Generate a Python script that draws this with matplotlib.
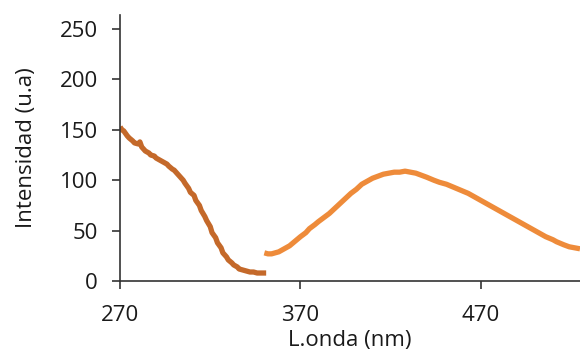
import matplotlib.pyplot as plt

# excitation spectrum (brown)
exc_nm = [270, 271, 272, 274, 275, 277, 278, 280, 281, 282, 284, 286, 287, 289, 290,
          292, 294, 296, 297, 299, 300, 302, 303, 305, 306, 308, 309, 311, 312, 314,
          315, 317, 318, 320, 321, 323, 324, 326, 327, 329, 330, 332, 333, 335, 336,
          338, 340, 342, 344, 346, 348, 351]
exc_int = [153, 150, 149, 144, 142, 139, 137, 136, 138, 133, 129, 127, 125, 124, 122,
           120, 118, 116, 114, 111, 110, 106, 104, 100, 97, 92, 88, 85, 80, 75,
           70, 64, 60, 54, 48, 43, 38, 33, 28, 24, 21, 18, 16, 14, 12,
           11, 10, 9, 9, 8, 8, 8]

# emission spectrum (orange)
em_nm = [350, 352, 354, 356, 358, 360, 362, 364, 366, 368, 370, 373, 375, 378, 380,
         383, 386, 389, 392, 395, 398, 401, 404, 407, 410, 413, 416, 419, 422, 425,
         428, 431, 434, 437, 440, 444, 447, 451, 455, 459, 463, 467, 470, 474, 478,
         482, 486, 490, 493, 497, 500, 504, 506, 510, 512, 516, 519, 522, 525]
em_int = [28, 27, 27, 28, 29, 31, 33, 35, 38, 41, 44, 48, 52, 56, 59,
          63, 67, 72, 77, 82, 87, 91, 96, 99, 102, 104, 106, 107, 108, 108,
          109, 108, 107, 105, 103, 100, 98, 96, 93, 90, 87, 83, 80, 76, 72,
          68, 64, 60, 57, 53, 50, 46, 44, 41, 39, 36, 34, 33, 32]

fig = plt.figure(figsize=(5.8, 3.54), dpi=100)
ax = fig.add_axes([0.207, 0.206, 0.793, 0.752])

ax.plot(exc_nm, exc_int, color="#C4692A", linewidth=3.8, solid_capstyle="butt")
ax.plot(em_nm, em_int, color="#EE8B3A", linewidth=3.8, solid_capstyle="butt")

ax.set_xlim(270, 525)
ax.set_ylim(0, 264)
ax.set_xticks([270, 370, 470])
ax.set_yticks([0, 50, 100, 150, 200, 250])

for s in ["top", "right"]:
    ax.spines[s].set_visible(False)
for s in ["left", "bottom"]:
    ax.spines[s].set_color("#333333")
    ax.spines[s].set_linewidth(1.2)

fs = 16
ax.tick_params(direction="out", length=6, width=1.2, color="#333333",
               labelsize=fs, labelcolor="#1a1a1a")
ax.tick_params(axis="y", pad=10)
ax.tick_params(axis="x", pad=11)
for lab in ax.get_xticklabels() + ax.get_yticklabels():
    lab.set_fontfamily("Open Sans")

ax.set_ylabel("Intensidad (u.a)", fontsize=fs, family="Open Sans", color="#1a1a1a", labelpad=16)
ax.set_xlabel("L.onda (nm)", fontsize=fs, family="Open Sans", color="#1a1a1a", labelpad=3)

fig.savefig("out.png")
